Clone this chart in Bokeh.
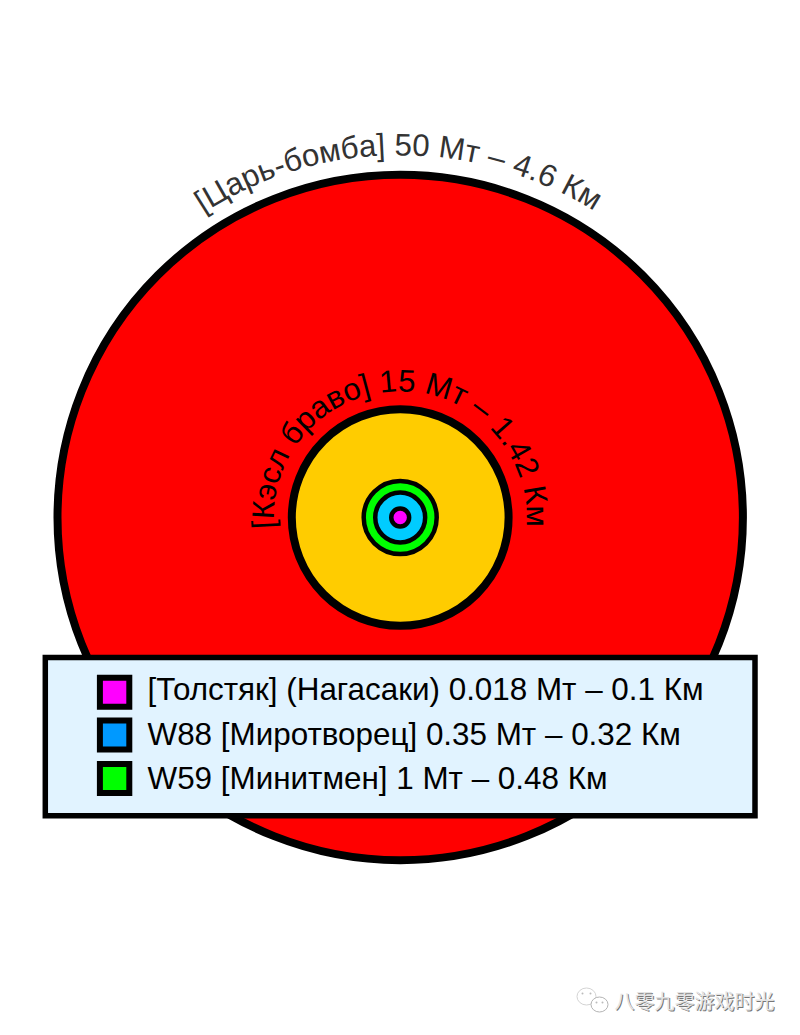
import math
from bokeh.plotting import figure
from bokeh.embed import file_html
from bokeh.resources import INLINE
from bokeh.core.properties import value

# --- data ---
bomb_names = ["Fat Man", "W88", "W59", "Castle Bravo", "Tsar Bomba"]
radii_km = [0.12, 0.335, 0.49, 1.455, 4.6]
circle_colors = ["#ff00ff", "#00ccff", "#00ff00", "#ffcc00", "#ff0000"]
circle_lines = [4.5, 4.5, 4.5, 8, 8]

legend_labels = ["[Толстяк] (Нагасаки) 0.018 Мт – 0.1 Км",
                 "W88 [Миротворец] 0.35 Мт – 0.32 Км",
                 "W59 [Минитмен] 1 Мт – 0.48 Км"]
legend_colors = ["#ff00ff", "#0099ff", "#00ff00"]

top_label = "[Царь-бомба] 50 Мт – 4.6 Км"
mid_label = "[Кэсл браво] 15 Мт – 1.42 Км"
watermark = "八零九零游戏时光"

# --- layout ---
S = 74.5
CX, CY = 399.7, 517
W, H = 784, 1019
FONT = "Liberation Sans"
BASE = 11  # alphabetic baseline correction, px

def X(px):
    return (px - CX) / S

def Y(py):
    return (CY - py) / S

# Arial/Liberation Sans advance widths, per 1000 em
ADV = {" ": 278, "[": 278, "]": 278, "(": 333, ")": 333, "-": 333, "–": 556, ".": 278,
       "Ц": 740, "М": 833, "К": 583, "а": 556, "р": 556, "ь": 521, "б": 573, "о": 556,
       "м": 683, "т": 458, "э": 510, "с": 500, "л": 573, "в": 531}

def arc_text(p, s, r_px, size, color, center_deg=0.0):
    widths = [ADV.get(c, 556) * size / 1000 for c in s]
    total = sum(widths)
    pos = -total / 2
    xs, ys, angs, chars = [], [], [], []
    for c, w in zip(s, widths):
        phi = (pos + w / 2) / r_px + math.radians(center_deg)
        xs.append((r_px + BASE) * math.sin(phi) / S)
        ys.append((r_px + BASE) * math.cos(phi) / S)
        angs.append(-phi)
        chars.append(c)
        pos += w
    p.text(xs, ys, text=chars, angle=angs, text_font=value(FONT),
           text_font_size=f"{size}px", text_color=color,
           text_align="center", text_baseline="alphabetic")

p = figure(width=W, height=H, x_range=(X(0), X(W)), y_range=(Y(H), Y(0)),
           output_backend="svg", toolbar_location=None, min_border=0,
           x_axis_type=None, y_axis_type=None)
p.grid.visible = False
p.outline_line_color = None
p.background_fill_color = "#ffffff"

# circles, biggest first
for r, c, lw in sorted(zip(radii_km, circle_colors, circle_lines), reverse=True):
    p.circle([0], [0], radius=r, fill_color=c, line_color="#000000", line_width=lw)

arc_text(p, top_label, 362, 31.2, "#333333", -0.3)
arc_text(p, mid_label, 126, 31.2, "#000000", -0.3)

# legend box
p.quad(left=[X(44.8)], right=[X(754.5)], top=[Y(657)], bottom=[Y(815.3)],
       fill_color="#e1f3ff", line_color="#000000", line_width=5.5, line_join="miter")
rows = [691.7, 734.6, 778]
text_rows = [691, 736, 780]
for py, ty, c, lab in zip(rows, text_rows, legend_colors, legend_labels):
    p.quad(left=[X(99.4)], right=[X(128.8)], top=[Y(py - 14.5)], bottom=[Y(py + 14.5)],
           fill_color=c, line_color="#000000", line_width=6, line_join="miter")
    p.text([X(147)], [Y(ty + 9 - BASE)], text=[lab], text_font=value(FONT), text_font_size="31.4px",
           text_color="#000000", text_align="left", text_baseline="alphabetic")

# watermark icon and text
p.ellipse([X(586)], [Y(996)], width=19 / S, height=17 / S, fill_color="#ffffff",
          line_color="#d4d4d4", line_width=1)
p.ellipse([X(599)], [Y(1004)], width=17 / S, height=15 / S, fill_color="#ffffff",
          line_color="#b4b4b4", line_width=1)
for ex, ey in [(582, 993), (590, 993), (596, 1002), (602, 1002)]:
    p.circle([X(ex)], [Y(ey)], radius=1 / S, fill_color="#bbbbbb", line_color=None)
p.text([X(615)], [Y(1001)], text=[watermark], text_font=value("Noto Sans CJK SC"),
       text_font_size="20px", text_color="#777777", text_align="left", text_baseline="alphabetic")
p.text([X(614)], [Y(1000)], text=[watermark], text_font=value("Noto Sans CJK SC"),
       text_font_size="20px", text_color="#e4e4e4", text_align="left", text_baseline="alphabetic")

open("out.html", "w").write(file_html(p, INLINE))
